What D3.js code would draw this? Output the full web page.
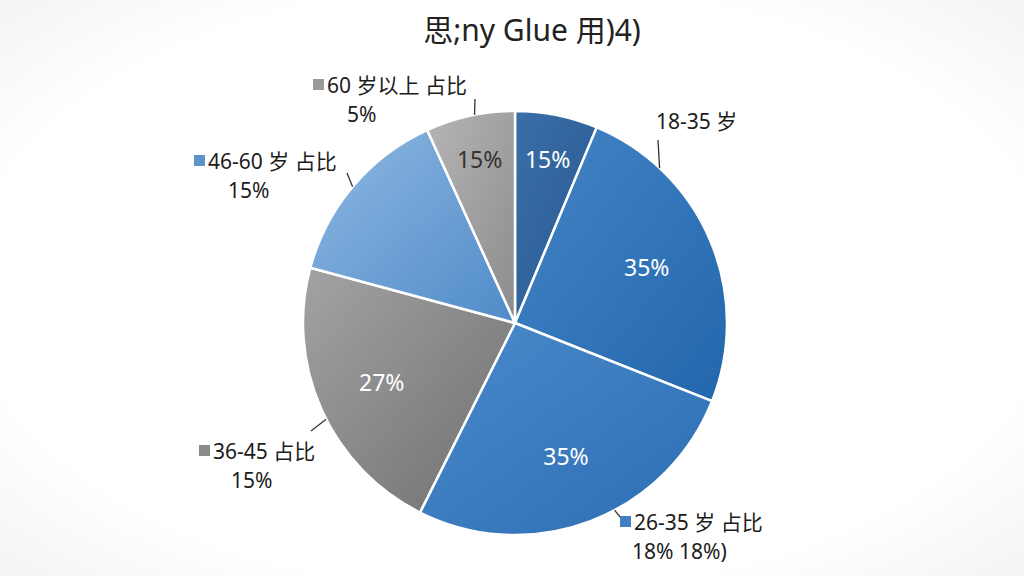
<!DOCTYPE html>
<html>
<head>
<meta charset="utf-8">
<script src="https://cdn.jsdelivr.net/npm/d3@7"></script>
<style>
  body { margin: 0; background: #fff; }
  svg { display: block; font-family: "Noto Sans", "Noto Sans CJK SC", sans-serif; }
</style>
</head>
<body>
<svg></svg>
<script>
const sliceValues = [6.3, 24.7, 26.4, 21.8, 14.0, 6.8];
const innerLabels = ["15%", "35%", "35%", "27%", "", "15%"];
const outerNames = ["", "18-35 岁", "26-35 岁 占比", "36-45 占比", "46-60 岁 占比", "60 岁以上 占比"];
const outerValues = ["", "", "18% 18%)", "15%", "15%", "5%"];
const titleText = "思;ny Glue 用)4)";

var width = 1024;
var height = 576;
var cx = 515, cy = 323, radius = 212;

// gradient colours per slice [light, dark]
var sliceColors = [
    ["#3a6ea8", "#285a92"],
    ["#4585c6", "#2266ad"],
    ["#4a8bcb", "#2c6cb3"],
    ["#a3a3a3", "#6f6f6f"],
    ["#8fb8e2", "#4f8bc8"],
    ["#b5b5b5", "#8c8c8c"]
];
var innerColors = ["#fff", "#fff", "#fff", "#fff", "#fff", "#333"];
var innerRadius = [166, 143, 143, 146, 0, 167];

// outer label layout: leader angle (deg), leader end, swatch flag, text anchors
var outerLayout = [
    null,
    {angle: 43, end: [658, 140], swatch: false, x: 656, y: 129, x2: 0, y2: 0},
    {angle: 152, end: [621, 518], swatch: true, x: 634, y: 530, x2: 632, y2: 559},
    {angle: 243, end: [311, 431], swatch: true, x: 213, y: 459, x2: 231, y2: 488},
    {angle: 310, end: [347, 173], swatch: true, x: 208, y: 169, x2: 228, y2: 198},
    {angle: 349, end: [475, 99], swatch: true, x: 327, y: 93, x2: 347, y2: 122}
];
var swatchColors = ["", "", "#3f7fc2", "#8a8a8a", "#5d93cb", "#9a9a9a"];

var svg = d3.select("svg").attr("width", width).attr("height", height);

// soft background
var defs = svg.append("defs");
var bg = defs.append("radialGradient").attr("id", "bg").attr("cx", "50%").attr("cy", "50%").attr("r", "75%");
bg.append("stop").attr("offset", "70%").attr("stop-color", "#ffffff");
bg.append("stop").attr("offset", "100%").attr("stop-color", "#f1f1f1");
svg.append("rect").attr("width", width).attr("height", height).attr("fill", "url(#bg)");

sliceColors.forEach((c, i) => {
    let g = defs.append("linearGradient").attr("id", "sg" + i)
        .attr("x1", "0%").attr("y1", "0%").attr("x2", "100%").attr("y2", "100%");
    g.append("stop").attr("offset", "0%").attr("stop-color", c[0]);
    g.append("stop").attr("offset", "100%").attr("stop-color", c[1]);
});

// title
svg.append("text").attr("x", 532).attr("y", 41).attr("text-anchor", "middle")
    .attr("font-size", 30).attr("fill", "#222").text(titleText);

// pie
let pie = d3.pie().sort(null).value(d => d);
let arcs = pie(sliceValues);
let arc = d3.arc().innerRadius(0).outerRadius(radius);

let g = svg.append("g").attr("transform", "translate(" + cx + "," + cy + ")");

g.selectAll("path.slice").data(arcs).enter().append("path")
    .attr("class", "slice")
    .attr("d", arc)
    .attr("fill", (d, i) => "url(#sg" + i + ")")
    .attr("stroke", "#fff")
    .attr("stroke-width", 2.5)
    .attr("stroke-linejoin", "round");

// inner percent labels
g.selectAll("text.inner").data(arcs).enter().append("text")
    .attr("class", "inner")
    .attr("transform", (d, i) => {
        let a = (d.startAngle + d.endAngle) / 2;
        let r = innerRadius[i];
        return "translate(" + (Math.sin(a) * r) + "," + (-Math.cos(a) * r) + ")";
    })
    .attr("text-anchor", "middle")
    .attr("dy", "0.35em")
    .attr("font-size", 23)
    .attr("fill", (d, i) => innerColors[i])
    .text((d, i) => innerLabels[i]);

// outer labels with leader lines
outerLayout.forEach((L, i) => {
    if (!L) return;
    let a = L.angle * Math.PI / 180;
    let sx = cx + Math.sin(a) * radius;
    let sy = cy - Math.cos(a) * radius;
    svg.append("line")
        .attr("x1", sx).attr("y1", sy)
        .attr("x2", L.end[0]).attr("y2", L.end[1])
        .attr("stroke", "#333").attr("stroke-width", 1.3);

    if (L.swatch) {
        svg.append("rect")
            .attr("x", L.x - 14).attr("y", L.y - 14)
            .attr("width", 11).attr("height", 11)
            .attr("fill", swatchColors[i]);
    }
    svg.append("text").attr("x", L.x).attr("y", L.y)
        .attr("font-size", 21).attr("fill", "#1c1c1c").text(outerNames[i]);
    if (outerValues[i]) {
        svg.append("text").attr("x", L.x2).attr("y", L.y2)
            .attr("font-size", 21).attr("fill", "#1c1c1c").text(outerValues[i]);
    }
});
</script>
</body>
</html>
